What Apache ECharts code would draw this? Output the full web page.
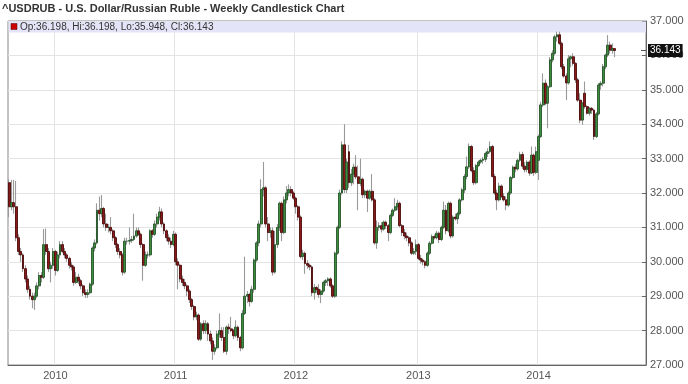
<!DOCTYPE html>
<html><head><meta charset="utf-8">
<script src="https://cdn.jsdelivr.net/npm/echarts@6/dist/echarts.min.js"></script>
<style>html,body{margin:0;padding:0;background:#fff}#c{width:688px;height:384px}</style>
</head><body><div id="c"></div>
<script>
const chartTitle = '^USDRUB - U.S. Dollar/Russian Ruble - Weekly Candlestick Chart';
const firstWeekMonday = '2009-08-10';
const weekSlots = 276;
const xTickLabels = ['2010', '2011', '2012', '2013', '2014'];
const yTickMin = 27, yTickMax = 37, yTickStep = 1;

// rows: [open, high, low, close]
const ohlc2009 = [
[32.30,32.40,31.30,31.60],[31.60,32.38,31.50,31.72],[31.72,32.38,31.40,31.60],[31.60,32.35,30.60,30.70],
[30.70,30.80,30.20,30.30],[30.30,30.40,30.00,30.20],[30.20,30.25,29.70,29.80],[29.80,29.90,29.40,29.50],
[29.50,29.60,29.10,29.20],[29.20,29.30,28.90,29.00],[29.00,29.10,28.65,28.90],[28.90,29.10,28.60,29.00],
[29.00,29.40,28.95,29.30],[29.30,29.70,29.20,29.60],[29.60,29.70,29.40,29.55],[29.55,30.95,29.50,30.50],
[30.50,30.97,30.20,30.30],[30.30,30.40,29.70,29.80],[29.80,30.00,29.40,29.90],[29.90,30.40,29.80,30.30]
];
const ohlc2010 = [
[30.30,30.35,29.60,29.75],[29.75,30.30,29.70,30.20],[30.20,30.60,30.10,30.50],[30.50,30.60,30.25,30.30],
[30.30,30.40,30.10,30.20],[30.20,30.25,30.00,30.10],[30.10,30.15,29.80,29.90],[29.90,30.00,29.75,29.85],
[29.85,29.90,29.30,29.40],[29.40,29.70,29.35,29.55],[29.55,29.65,29.35,29.45],[29.45,29.50,29.20,29.30],
[29.30,29.35,29.00,29.10],[29.10,29.20,28.95,29.05],[29.05,29.20,28.95,29.10],[29.10,29.40,29.05,29.35],
[29.35,30.45,29.30,30.40],[30.40,30.65,30.30,30.55],[30.55,31.70,30.50,31.50],[31.50,31.90,31.20,31.40],
[31.40,31.94,31.30,31.55],[31.55,31.60,31.00,31.10],[31.10,31.40,30.90,31.00],[31.00,31.10,30.85,31.00],
[31.00,31.30,30.80,30.90],[30.90,30.95,30.60,30.70],[30.70,30.75,30.40,30.50],[30.50,30.55,30.20,30.30],
[30.30,30.40,30.10,30.20],[30.20,30.25,29.60,29.70],[29.70,30.70,29.65,30.60],[30.60,30.70,30.50,30.60],
[30.60,31.00,30.50,30.62],[30.62,30.75,30.55,30.65],[30.65,31.40,30.60,30.75],[30.75,31.00,30.70,30.90],
[30.90,31.00,30.75,30.80],[30.80,30.85,30.40,30.50],[30.50,30.55,29.45,29.90],[29.90,30.30,29.85,30.20],
[30.20,30.30,30.10,30.20],[30.20,30.95,30.15,30.90],[30.90,30.95,30.70,30.80],[30.80,31.20,30.75,31.10],
[31.10,31.40,31.00,31.30],[31.30,31.60,31.20,31.45],[31.45,31.55,31.00,31.10],[31.10,31.15,30.80,30.90],
[30.90,30.95,30.60,30.70],[30.70,30.80,30.50,30.60],[30.60,30.70,30.40,30.50],[30.50,30.90,30.45,30.80]
];
const ohlc2011 = [
[30.80,30.85,29.90,30.00],[30.00,30.10,29.20,29.90],[29.90,29.95,29.40,29.50],[29.50,29.60,29.30,29.40],
[29.40,29.50,29.20,29.30],[29.30,29.35,29.00,29.15],[29.15,29.20,28.80,28.90],[28.90,28.95,28.60,28.70],
[28.70,28.75,28.30,28.40],[28.40,28.55,28.30,28.45],[28.45,28.50,27.70,27.75],[27.75,28.25,27.70,28.20],
[28.20,28.30,27.90,28.00],[28.00,28.30,27.90,28.20],[28.20,28.25,27.70,27.90],[27.90,28.00,27.60,27.70],
[27.70,27.80,27.15,27.40],[27.40,27.60,27.30,27.50],[27.50,28.00,27.45,27.90],[27.90,28.50,27.80,28.00],
[28.00,28.10,27.70,27.80],[27.80,28.10,27.35,27.40],[27.40,28.15,27.30,28.10],[28.10,28.20,27.90,28.05],
[28.05,28.40,27.95,28.00],[28.00,28.05,27.75,27.85],[27.85,28.30,27.80,28.10],[28.10,28.15,27.70,27.80],
[27.80,27.85,27.40,27.50],[27.50,28.60,27.45,28.50],[28.50,30.15,28.45,29.00],[29.00,29.15,28.80,29.05],
[29.05,29.10,28.70,28.85],[28.85,29.30,28.80,29.20],[29.20,30.10,29.10,30.05],[30.05,30.60,30.00,30.55],
[30.55,31.20,30.45,31.10],[31.10,32.40,31.00,32.10],[32.10,32.90,31.90,32.15],[32.15,32.20,31.00,31.10],
[31.10,31.30,30.60,30.85],[30.85,31.00,30.70,30.90],[30.90,31.00,29.60,29.70],[29.70,30.90,29.65,30.50],
[30.50,31.10,30.40,31.00],[31.00,31.75,30.90,31.70],[31.70,31.75,30.60,30.85],[30.85,31.90,30.80,31.80],
[31.80,32.20,31.70,32.00],[32.00,32.25,31.90,32.10],[32.10,32.20,31.90,32.00],[32.00,32.05,31.80,31.85]
];
const ohlc2012 = [
[31.85,31.90,31.40,31.60],[31.60,31.65,31.20,31.30],[31.30,31.35,30.10,30.15],[30.15,30.35,30.05,30.25],
[30.25,30.30,29.65,29.95],[29.95,30.05,29.80,29.90],[29.90,29.95,29.75,29.85],[29.85,29.90,29.00,29.10],
[29.10,29.35,28.90,29.25],[29.25,29.30,29.10,29.20],[29.20,29.35,28.95,29.05],[29.05,29.20,28.80,29.15],
[29.15,29.45,29.10,29.40],[29.40,29.50,29.30,29.45],[29.45,29.55,29.30,29.50],[29.50,29.55,29.25,29.30],
[29.30,29.35,28.95,29.00],[29.00,30.30,28.95,30.25],[30.25,31.05,30.20,31.00],[31.00,32.10,30.95,32.00],
[32.00,33.50,31.95,33.40],[33.40,34.00,32.00,32.10],[32.10,33.00,32.00,32.90],[33.20,33.40,32.15,32.30],
[32.30,32.70,32.20,32.55],[32.55,32.85,32.25,32.75],[32.75,33.10,32.40,32.47],[32.47,32.80,31.50,32.28],
[32.28,33.00,32.20,32.40],[32.40,32.45,31.85,31.95],[31.95,32.10,31.85,32.05],[32.05,32.10,31.45,31.85],
[31.85,32.10,31.80,32.05],[32.05,32.55,31.75,31.80],[31.80,31.85,30.50,30.55],[30.55,31.20,30.38,31.00],
[31.00,31.15,30.90,31.05],[31.05,31.15,30.85,30.95],[30.95,31.20,30.90,31.15],[31.15,31.20,30.95,31.05],
[31.05,31.10,30.60,30.85],[30.85,31.40,30.80,31.35],[31.35,31.55,31.30,31.50],[31.50,31.85,31.45,31.60],
[31.60,31.80,31.50,31.70],[31.70,31.75,31.00,31.05],[31.05,31.10,30.75,30.85],[30.85,30.95,30.65,30.75],
[30.75,30.85,30.60,30.70],[30.70,30.75,30.45,30.55],[30.55,30.60,30.20,30.25],[30.25,30.40,30.20,30.30],
[30.30,30.65,30.20,30.50]
];
const ohlc2013 = [
[30.50,30.55,30.05,30.10],[30.10,30.20,29.95,30.05],[30.05,30.10,29.90,30.00],[30.00,30.05,29.81,29.90],
[29.90,30.30,29.85,30.25],[30.25,30.60,30.20,30.54],[30.54,30.80,30.50,30.73],[30.73,30.80,30.65,30.70],
[30.70,30.90,30.65,30.83],[30.83,30.88,30.55,30.65],[30.65,31.05,30.60,31.00],[31.00,31.75,30.95,31.50],
[31.50,31.65,30.80,30.90],[30.90,31.75,30.85,31.70],[31.70,31.75,30.68,30.75],[30.75,31.35,30.70,31.30],
[31.30,31.40,31.20,31.25],[31.25,31.45,31.10,31.40],[31.40,31.85,31.35,31.80],[31.80,32.15,31.75,32.09],
[32.09,32.55,32.00,32.48],[32.48,33.06,32.40,32.76],[32.76,33.44,32.70,33.35],[33.35,33.40,32.60,32.65],
[32.65,32.75,32.23,32.30],[32.30,32.85,32.25,32.80],[32.80,32.95,32.75,32.90],[32.90,33.00,32.85,32.95],
[32.95,33.05,32.85,32.98],[32.98,33.20,32.90,33.15],[33.15,33.30,33.05,33.20],[33.20,33.50,33.15,33.35],
[33.35,33.40,32.45,32.48],[32.48,32.55,31.95,32.00],[32.00,32.10,31.50,31.80],[31.80,32.30,31.75,32.20],
[32.20,32.25,31.85,31.90],[31.90,32.00,31.75,31.80],[31.80,31.90,31.50,31.65],[31.65,32.05,31.60,32.00],
[32.00,32.50,31.95,32.45],[32.45,32.80,32.40,32.75],[32.75,32.85,32.60,32.70],[32.70,33.00,32.65,32.95],
[32.95,33.20,32.90,33.12],[33.12,33.20,32.70,32.78],[32.78,32.90,32.60,32.68],[32.68,32.95,32.60,32.90],
[32.90,32.95,32.50,32.58],[32.58,33.35,32.55,33.10],[33.10,33.15,32.50,32.60],[32.60,33.35,32.55,33.20]
];
const ohlc2014 = [
[32.95,33.70,32.38,33.64],[33.64,34.65,33.60,34.56],[34.56,35.48,34.50,35.19],[35.19,35.30,34.55,34.61],
[34.61,35.15,33.88,35.09],[35.09,35.95,35.05,35.87],[35.87,36.15,35.80,36.06],[36.06,36.60,36.00,36.54],
[36.54,36.69,36.40,36.60],[36.60,36.69,36.30,36.35],[36.35,36.40,35.60,35.67],[35.67,35.75,35.35,35.40],
[35.40,35.48,34.70,35.20],[35.20,36.01,35.15,35.90],[35.90,36.00,35.65,35.96],[35.96,36.06,35.70,35.77],
[35.77,35.80,35.20,35.29],[35.29,35.35,34.65,34.70],[34.70,34.90,34.03,34.12],[34.12,34.65,33.98,34.61],
[34.90,35.24,34.45,34.51],[34.51,34.55,34.28,34.32],[34.32,34.50,34.25,34.46],[34.46,34.50,34.30,34.41],
[34.41,34.45,33.54,33.64],[33.64,34.35,33.60,34.30],[34.30,35.20,34.25,35.14],[35.14,35.25,35.00,35.19],
[35.19,35.75,35.10,35.67],[35.67,36.05,35.60,36.01],[36.01,36.59,35.95,36.30],[36.30,36.40,36.05,36.15],
[36.15,36.35,36.05,36.20],[36.198,36.198,35.948,36.143]
];

const rows = [].concat(ohlc2009, ohlc2010, ohlc2011, ohlc2012, ohlc2013, ohlc2014);
const DAY = 86400000;
const t0 = Date.parse(firstWeekMonday + 'T00:00:00Z');
const categories = [];
for (let k = 0; k < weekSlots; k++) categories.push(new Date(t0 + k * 7 * DAY).toISOString().slice(0, 10));
function weekYearLabel(idx) {
  const a = new Date(t0 + idx * 7 * DAY), b = new Date(t0 + (idx * 7 + 6) * DAY);
  const crosses = b.getUTCFullYear() !== a.getUTCFullYear() || (a.getUTCMonth() === 0 && a.getUTCDate() === 1);
  const y = String(b.getUTCFullYear());
  return crosses && xTickLabels.indexOf(y) >= 0 ? y : null;
}
const showTick = (idx) => weekYearLabel(idx) !== null;

// ECharts candlestick order: [open, close, low, high]
const fullData = rows.map(r => [r[0], r[3], r[2], r[1]]);
const bodyData = rows.map(r => [r[0], r[3], Math.min(r[0], r[3]), Math.max(r[0], r[3])]);
const last = rows[rows.length - 1];
const legendText = 'Op:' + last[0].toFixed(3) + ', Hi:' + last[1].toFixed(3) + ', Lo:' + last[2].toFixed(3) + ', Cl:' + last[3].toFixed(3);

const FONT = '"Liberation Sans", Arial, sans-serif';
const chart = echarts.init(document.getElementById('c'), null, {renderer: 'canvas'});
const baseGraphic = [
  {type: 'rect', z: 1, shape: {x: 8.5, y: 21.5, width: 637.5, height: 11}, style: {fill: '#e4e4f8'}},
  {type: 'rect', z: 3, shape: {x: 11, y: 23.5, width: 6, height: 6}, style: {fill: '#cc0000', stroke: '#550000', lineWidth: 0.5}},
  {type: 'text', z: 3, x: 20, y: 22, style: {text: legendText, fontFamily: FONT, fontSize: 10, fill: '#333'}}
];
chart.setOption({
  animation: false,
  backgroundColor: '#fff',
  title: {text: chartTitle, left: 2, top: 3, padding: 0,
    textStyle: {fontFamily: FONT, fontSize: 11, fontWeight: 'bold', color: '#333'}},
  grid: {left: 8, right: 42, top: 21, bottom: 19, show: true, borderColor: '#888', borderWidth: 1},
  xAxis: {
    type: 'category', data: categories, boundaryGap: true,
    axisLine: {lineStyle: {color: '#666'}},
    axisTick: {interval: (i) => showTick(i), alignWithLabel: true, length: 4, lineStyle: {color: '#666'}},
    axisLabel: {interval: (i) => showTick(i), formatter: (v, i) => weekYearLabel(i) || '',
      fontFamily: FONT, fontSize: 11, color: '#555', margin: 5},
    splitLine: {show: true, interval: (i) => showTick(i), lineStyle: {color: '#e4e4e4'}}
  },
  yAxis: {
    type: 'value', position: 'right', min: yTickMin, max: yTickMax, interval: yTickStep, scale: true,
    axisLine: {show: true, lineStyle: {color: '#666'}},
    axisTick: {show: true, inside: true, length: 4, lineStyle: {color: '#666'}},
    axisLabel: {formatter: (v) => v.toFixed(3), fontFamily: FONT, fontSize: 11, color: '#555', margin: 4},
    splitLine: {show: true, lineStyle: {color: '#e4e4e4'}}
  },
  graphic: baseGraphic,
  series: [
    {type: 'candlestick', name: 'range', data: fullData, barWidth: 1.2, z: 2,
      itemStyle: {color: '#9a9a9a', color0: '#9a9a9a', borderColor: '#9a9a9a', borderColor0: '#9a9a9a', borderWidth: 1.1}},
    {type: 'candlestick', name: 'body', data: bodyData, barWidth: 2.4, z: 3,
      itemStyle: {color: '#3f8c3f', color0: '#8a1a1a', borderColor: '#27552a', borderColor0: '#4e0c0c', borderWidth: 0.9}}
  ]
});
// current close label placed through the y-axis scale
const yPix = chart.convertToPixel({yAxisIndex: 0}, last[3]);
const xEnd = chart.convertToPixel({xAxisIndex: 0}, categories.length - 1);
chart.setOption({graphic: baseGraphic.concat([
  {type: 'line', z: 4, shape: {x1: 641, y1: Math.round(yPix) + 0.5, x2: 646, y2: Math.round(yPix) + 0.5}, style: {stroke: '#555', lineWidth: 1}},
  {type: 'text', z: 5, x: 648, y: yPix, style: {text: last[3].toFixed(3), fontFamily: FONT, fontSize: 10,
    fill: '#fff', backgroundColor: '#111', padding: [2, 2, 1, 2], verticalAlign: 'middle'}}
])});
</script></body></html>
